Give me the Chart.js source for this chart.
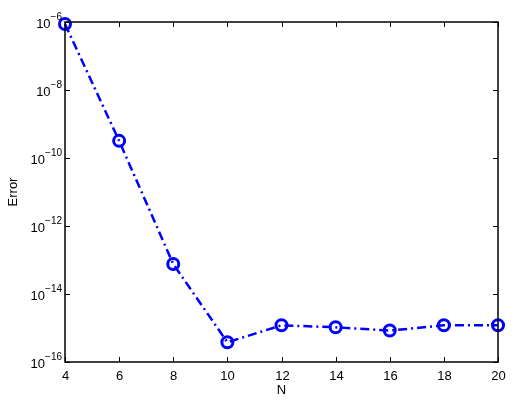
<!DOCTYPE html>
<html>
<head>
<meta charset="utf-8">
<script src="https://cdn.jsdelivr.net/npm/chart.js@4/dist/chart.umd.min.js"></script>
<style>
  html, body { margin: 0; padding: 0; background: #fff; }
  #wrap { width: 514px; height: 400px; }
</style>
</head>
<body>
<div id="wrap"><canvas id="graph" width="514" height="400"></canvas></div>
<script>
// data
var nValues   = [4, 6, 8, 10, 12, 14, 16, 18, 20];
var errValues = [8.7e-7, 3.2e-10, 7.6e-14, 3.8e-16, 1.2e-15, 1.05e-15, 8.4e-16, 1.2e-15, 1.2e-15];
var xTicks    = [4, 6, 8, 10, 12, 14, 16, 18, 20];
var yTickExps = [-6, -8, -10, -12, -14, -16];

var FONT = "Arial, 'Liberation Sans', Helvetica, sans-serif";

// box, inner ticks, tick labels with superscripts, axis titles
var axesPlugin = {
    id: "matlabAxes",
    afterDraw: function(chart) {
        var ctx = chart.ctx;
        var a = chart.chartArea;
        var xs = chart.scales.x, ys = chart.scales.y;
        ctx.save();
        ctx.strokeStyle = "#000";
        ctx.lineWidth = 1.5;
        ctx.strokeRect(a.left, a.top, a.right - a.left, a.bottom - a.top);

        ctx.lineWidth = 1;
        ctx.fillStyle = "#000";
        ctx.font = "13px " + FONT;
        ctx.textAlign = "center";
        ctx.textBaseline = "middle";
        xTicks.forEach(function(v) {
            var px = Math.round(xs.getPixelForValue(v)) + 0.5;
            ctx.beginPath();
            ctx.moveTo(px, a.bottom); ctx.lineTo(px, a.bottom - 5);
            ctx.moveTo(px, a.top);    ctx.lineTo(px, a.top + 5);
            ctx.stroke();
            ctx.fillText(String(v), px, a.bottom + 14);
        });

        yTickExps.forEach(function(e) {
            var py = Math.round(ys.getPixelForValue(Math.pow(10, e))) + 0.5;
            ctx.beginPath();
            ctx.moveTo(a.left, py);  ctx.lineTo(a.left + 5, py);
            ctx.moveTo(a.right, py); ctx.lineTo(a.right - 5, py);
            ctx.stroke();
            // "10" with exponent
            ctx.font = "10px " + FONT;
            ctx.textAlign = "left";
            var sup = "\u2212" + String(-e);
            var supW = ctx.measureText(sup).width;
            ctx.font = "13px " + FONT;
            var baseW = ctx.measureText("10").width;
            var x0 = a.left - 3 - supW - baseW;
            ctx.fillText("10", x0, py + 2);
            ctx.font = "10px " + FONT;
            ctx.fillText(sup, x0 + baseW, py - 5);
            ctx.font = "13px " + FONT;
        });

        ctx.textAlign = "center";
        ctx.fillText("N", (a.left + a.right) / 2, a.bottom + 28);
        ctx.translate(13, (a.top + a.bottom) / 2);
        ctx.rotate(-Math.PI / 2);
        ctx.fillText("Error", 0, 0);
        ctx.restore();
    }
};

var canvas = document.getElementById("graph");
var ctx = canvas.getContext("2d");
var points = nValues.map(function(n, i) { return { x: n, y: errValues[i] }; });

var myChart = new Chart(ctx, {
    type: "line",
    data: {
        datasets: [{
            label: "Error",
            data: points,
            borderColor: "#0000ff",
            backgroundColor: "rgba(0,0,0,0)",
            borderWidth: 2.5,
            borderDash: [9, 4, 2, 4],
            pointRadius: 5.5,
            pointBorderWidth: 3,
            pointBorderColor: "#0000ff",
            pointBackgroundColor: "rgba(0,0,0,0)",
            fill: false,
            tension: 0,
            clip: false
        }]
    },
    options: {
        responsive: false,
        animation: false,
        layout: { padding: { left: 65, right: 16, top: 22, bottom: 38 } },
        plugins: {
            legend: { display: false },
            tooltip: { enabled: false },
            title: { display: false }
        },
        scales: {
            x: { type: "linear", min: 4, max: 20, display: false },
            y: { type: "logarithmic", min: 1e-16, max: 1e-6, display: false }
        }
    },
    plugins: [axesPlugin]
});
</script>
</body>
</html>
